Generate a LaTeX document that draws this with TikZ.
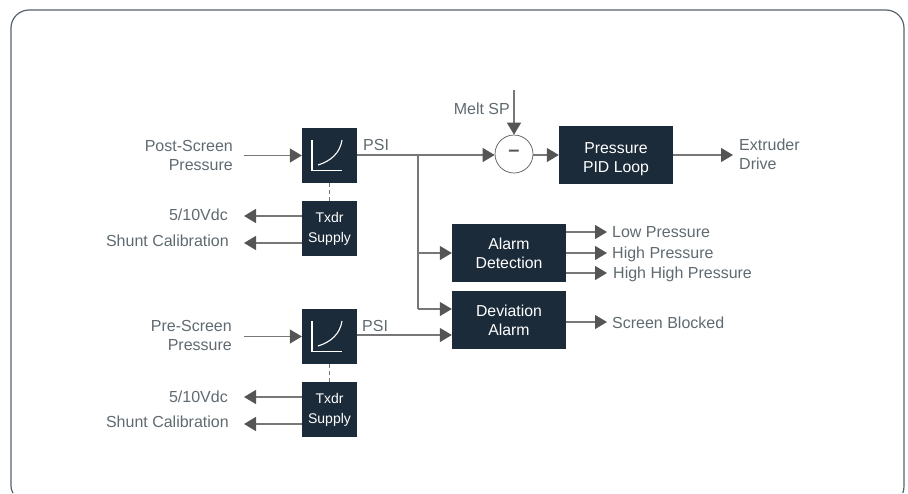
\documentclass[tikz,border=0pt]{standalone}
\usepackage{fontspec}
\setmainfont{Liberation Sans}
\definecolor{boxfill}{HTML}{1C2B3A}
\definecolor{tipgray}{HTML}{555555}
\definecolor{linegray}{HTML}{777777}
\definecolor{labelgray}{HTML}{5F6A70}
\definecolor{framegray}{HTML}{55626E}
\usetikzlibrary{arrows.meta}
\tikzset{
  blockbox/.style={fill=boxfill,text=white,align=center,inner sep=0pt,font=\fontsize{15.8}{19}\selectfont},
  label/.style={text=labelgray,inner sep=0pt,font=\fontsize{16}{19}\selectfont},
  feed/.style={draw=linegray,line width=1.3pt,-{Triangle[length=12pt,width=14pt,color=tipgray]}},
  plainfeed/.style={draw=linegray,line width=1.3pt},
  axis/.style={draw=white,line width=1.1pt}
}
\begin{document}
\begin{tikzpicture}[x=1pt,y=-1pt]
\useasboundingbox (0,0) rectangle (908,493);

% outer frame, open at the bottom
\draw[framegray,line width=1.2pt] (13,493) .. controls (11.6,490.5) and (11,489) .. (11,486) -- (11,28) arc (180:270:18) -- (886,10) arc (270:360:18) -- (904,486) .. controls (904,489) and (903.6,491) .. (902.8,493);

% blocks
\node[blockbox,minimum width=55pt,minimum height=55pt] (postcurve) at (329.5,155.5) {};
\node[blockbox,minimum width=55pt,minimum height=55pt,font=\fontsize{14}{20}\selectfont] (posttxdr) at (329.5,228.5) {Txdr\\Supply};
\node[blockbox,minimum width=55pt,minimum height=55pt] (precurve) at (329.5,336.5) {};
\node[blockbox,minimum width=55pt,minimum height=55pt,font=\fontsize{14}{20}\selectfont] (pretxdr) at (329.5,409.5) {Txdr\\Supply};
\node[blockbox,minimum width=114pt,minimum height=58pt] (pidloop) at (616,155) {\raisebox{0pt}[18.5pt][0pt]{Pressure}\\PID Loop};
\node[blockbox,minimum width=114pt,minimum height=58pt] (alarmdet) at (509,253) {Alarm\\Detection};
\node[blockbox,minimum width=114pt,minimum height=58pt] (devalarm) at (509,320) {Deviation\\Alarm};
\node[circle,draw=tipgray,line width=0.7pt,minimum size=38pt,inner sep=0pt,text=tipgray,font=\fontsize{20}{20}\bfseries] (summer) at (514,154) {\raisebox{1pt}{--}};

% curve icons
\draw[axis] (312,140) -- (312,170.5) -- (342,170.5);
\draw[axis] (318,165) .. controls (331,161) and (340,153) .. (342,140);
\draw[axis] (312,321) -- (312,351.5) -- (342,351.5);
\draw[axis] (318,346) .. controls (331,342) and (340,334) .. (342,321);

% labels
\node[label,align=right,anchor=east] (postlabel) at (233,155.5) {Post-Screen\\Pressure};
\node[label,align=right,anchor=east] (prelabel) at (232,335.5) {Pre-Screen\\Pressure};
\node[label,anchor=east] (voltA) at (228,215) {5/10Vdc};
\node[label,anchor=east] (shuntA) at (229,241) {Shunt Calibration};
\node[label,anchor=east] (voltB) at (228,397) {5/10Vdc};
\node[label,anchor=east] (shuntB) at (229,422) {Shunt Calibration};
\node[label,anchor=west] (psiA) at (363,145) {PSI};
\node[label,anchor=west] (psiB) at (362,326) {PSI};
\node[label,anchor=east] (meltsp) at (510,109) {Melt SP};
\node[label,align=left,anchor=west] (extruder) at (739,154.5) {Extruder\\Drive};
\node[label,anchor=west] (lowp) at (612,232) {Low Pressure};
\node[label,anchor=west] (highp) at (612,254) {High Pressure};
\node[label,anchor=west] (hihip) at (613,274) {High High Pressure};
\node[label,anchor=west] (blocked) at (612,323) {Screen Blocked};

% free ends
\coordinate (postin) at (244,155.5);
\coordinate (prein) at (244,336.5);
\coordinate (meltin) at (514,90);
\coordinate (junction) at (418,155);
\coordinate (drive) at (733,155);

% connectors
\draw[feed] (postin) -- (postcurve.west);
\draw[feed] (prein) -- (precurve.west);
\draw[feed] (posttxdr.west |- 0,216) -- (244,216);
\draw[feed] (posttxdr.west |- 0,243) -- (244,243);
\draw[feed] (pretxdr.west |- 0,397) -- (244,397);
\draw[feed] (pretxdr.west |- 0,424) -- (244,424);
\draw[plainfeed,dash pattern=on 4pt off 3pt] (postcurve) -- (posttxdr);
\draw[plainfeed,dash pattern=on 4pt off 3pt] (precurve) -- (pretxdr);
\draw[feed] (meltin) -- (summer.north);
\draw[feed] (postcurve.east |- junction) -- (summer.west |- junction);
\draw[feed] (summer.east |- pidloop.west) -- (pidloop.west);
\draw[feed] (pidloop.east) -- (drive);
\draw[plainfeed] (junction) -- (418,309);
\draw[feed] (junction |- alarmdet.west) -- (alarmdet.west);
\draw[feed] (junction |- 0,309) -- (devalarm.west |- 0,309);
\draw[feed] (precurve.east |- 0,335) -- (devalarm.west |- 0,335);
\draw[feed] (alarmdet.east |- 0,232) -- (607,232);
\draw[feed] (alarmdet.east |- 0,253) -- (607,253);
\draw[feed] (alarmdet.east |- 0,273) -- (607,273);
\draw[feed] (devalarm.east |- 0,322) -- (607,322);
\end{tikzpicture}
\end{document}
